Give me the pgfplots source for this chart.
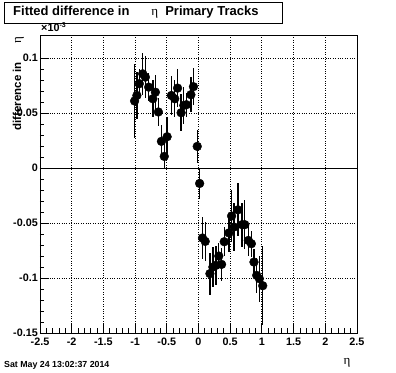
\documentclass[border=0pt]{standalone}
\usepackage{fontspec}
\setmainfont{Liberation Sans}
\newfontfamily\grk{Liberation Serif}
\usepackage{pgfplots}
\usepackage{pgfplotstable}
\pgfplotsset{compat=1.18}
\pgfplotstableread{
x y e
-1.008 0.061 0.034
-0.972 0.066 0.021
-0.934 0.0767 0.013
-0.880 0.0857 0.019
-0.838 0.0827 0.019
-0.786 0.0736 0.013
-0.720 0.063 0.017
-0.680 0.069 0.016
-0.633 0.051 0.013
-0.585 0.0243 0.015
-0.540 0.0106 0.0115
-0.495 0.0285 0.018
-0.427 0.066 0.018
-0.375 0.063 0.017
-0.330 0.0727 0.017
-0.274 0.0503 0.017
-0.232 0.057 0.017
-0.190 0.0576 0.011
-0.120 0.0667 0.016
-0.080 0.074 0.017
-0.020 0.0197 0.015
0.018 -0.0140 0.014
0.063 -0.0636 0.019
0.106 -0.0667 0.018
0.180 -0.096 0.019
0.227 -0.090 0.018
0.274 -0.0885 0.018
0.320 -0.080 0.012
0.364 -0.0876 0.015
0.406 -0.067 0.013
0.480 -0.059 0.017
0.522 -0.0436 0.024
0.560 -0.0536 0.022
0.622 -0.038 0.024
0.686 -0.0515 0.020
0.730 -0.0515 0.022
0.786 -0.0658 0.014
0.834 -0.0688 0.012
0.875 -0.0855 0.012
0.918 -0.0976 0.016
0.960 -0.1006 0.021
1.013 -0.107 0.036
}\datatable
\begin{document}
\begin{tikzpicture}
\path[use as bounding box] (0,0) rectangle (396pt,372pt);
\begin{axis}[
  at={(40pt,39pt)}, anchor=south west,
  scale only axis, width=317pt, height=298pt,
  xmin=-2.5, xmax=2.5, ymin=-0.15, ymax=0.121,
  xtick={-2.5,-2,-1.5,-1,-0.5,0,0.5,1,1.5,2,2.5},
  xticklabels={-2.5,-2,-1.5,-1,-0.5,0,0.5,1,1.5,2,2.5},
  ytick={-0.15,-0.1,-0.05,0,0.05,0.1},
  yticklabels={-0.15,-0.1,-0.05,0,0.05,0.1},
  minor x tick num=4, minor y tick num=4,
  xtick pos=left, ytick pos=left,
  tick align=inside,
  major tick length=9pt, minor tick length=4.5pt,
  tick style={black, line width=0.8pt},
  axis line style={line width=0.9pt},
  grid=major,
  grid style={dotted, black, line width=0.8pt},
  /pgf/number format/assume math mode=true,
  ticklabel style={font=\fontsize{10.8}{10.8}\selectfont\bfseries},
  yticklabel style={inner sep=1pt, xshift=-1pt},
  xticklabel style={inner sep=1pt, yshift=-3.5pt},
  clip=false,
]
\draw[black, line width=1pt] (axis cs:-2.5,0) -- (axis cs:2.5,0);
\addplot[only marks, mark=*, mark size=4.4pt, black,
  error bars/.cd, y dir=both, y explicit,
  error mark=none, error bar style={line width=1.3pt, black}]
  table[x=x, y=y, y error=e] {\datatable};
\end{axis}
% title box
\node[draw, line width=1pt, fill=white, minimum width=278pt, minimum height=21pt,
  inner sep=0pt, anchor=north west] at (4pt,370pt) {};
\node[anchor=west, inner sep=0pt] at (13pt,359.5pt)
  {\fontsize{13}{13}\selectfont\bfseries Fitted difference in\hspace{22pt}{\mdseries\grk η}\hspace{7pt}Primary Tracks};
% y label
\node[rotate=90, anchor=base east, inner sep=0pt] at (21pt,335pt)
  {\fontsize{11.5}{11.5}\selectfont\bfseries difference in\hspace{18pt}{\mdseries\grk\fontsize{13}{13}\selectfont η}};
% multiplier
\node[anchor=base west, inner sep=0pt] at (41pt,340pt)
  {\fontsize{10.8}{10.8}\selectfont\bfseries ×10\raisebox{4.5pt}{\fontsize{7}{7}\selectfont -3}};
% x label
\node[anchor=base, inner sep=0pt] at (347pt,8pt) {\grk\fontsize{13}{13}\selectfont η};
% date
\node[anchor=base west, inner sep=0pt] at (4pt,5pt) {\fontsize{8.8}{8.8}\selectfont\bfseries Sat May 24 13:02:37 2014};
\end{tikzpicture}
\end{document}
